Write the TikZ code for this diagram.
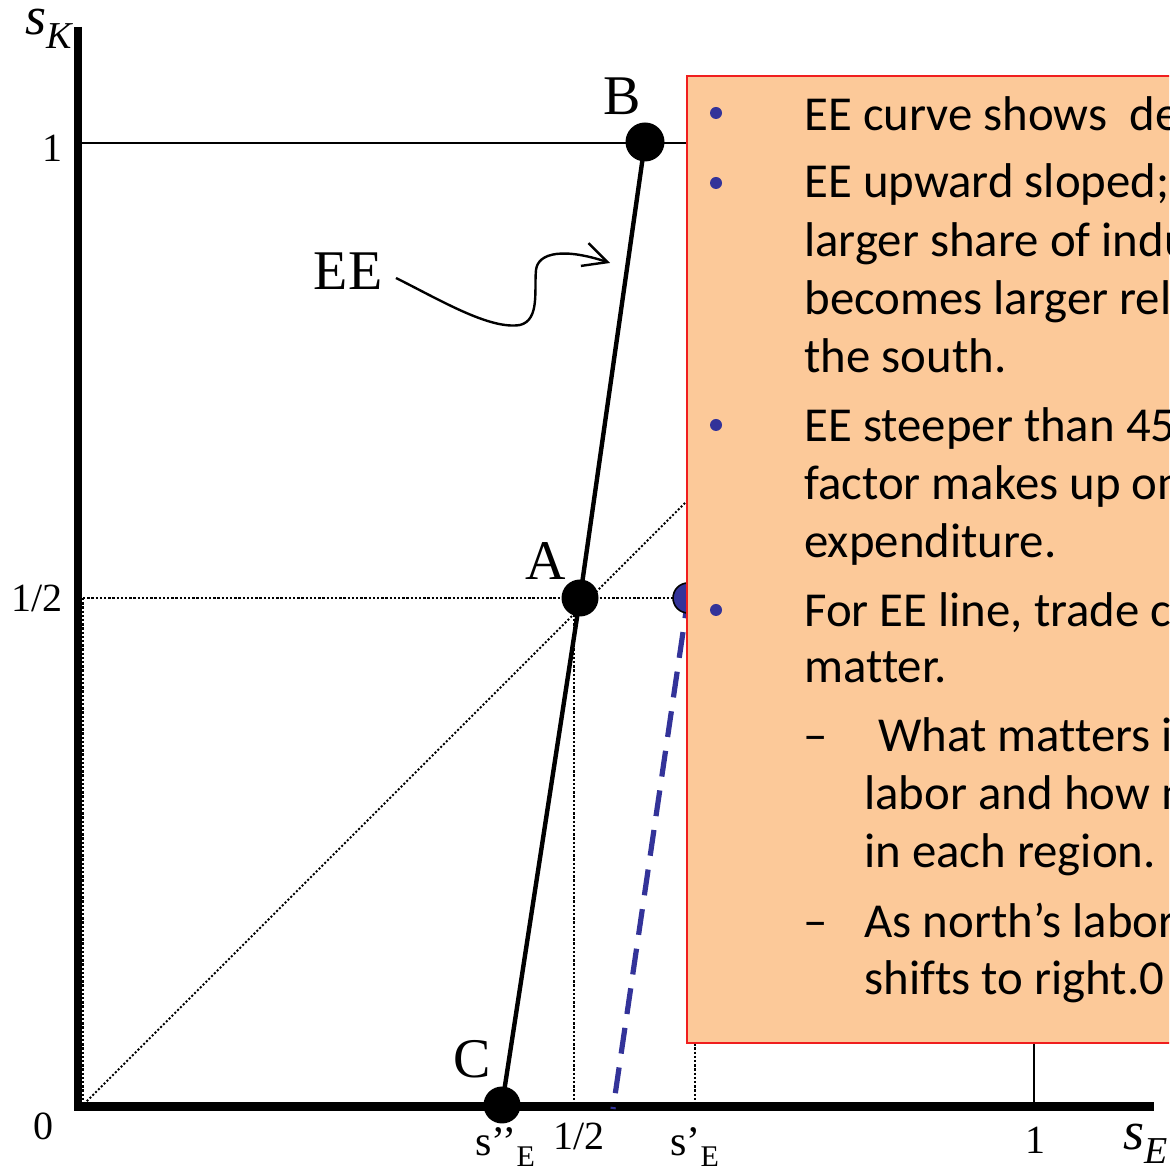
\documentclass[tikz,border=0pt]{standalone}
\usepackage{fontspec}
\setmainfont{Liberation Serif}
\newfontfamily\notefont[Ligatures=CommonOff]{Carlito}
\usetikzlibrary{arrows.meta}
\definecolor{notefill}{RGB}{252,201,153}
\definecolor{noteblue}{RGB}{51,51,153}
\definecolor{noteborder}{RGB}{240,30,30}

\newcommand{\axsub}[2]{#1\raisebox{-0.55ex}{\fontsize{15}{15}\selectfont #2}}

\begin{document}
\begin{tikzpicture}[x=0.5pt,y=0.5pt,
    axis/.style={line width=4.2pt},
    guide/.style={line width=1.3pt, dash pattern=on 1.2pt off 0.9pt},
    dot/.style={circle, fill=black, inner sep=0pt, minimum size=18.5pt},
    ptlabel/.style={anchor=base, inner sep=0pt, font=\fontsize{28}{30}\selectfont},
    ticklabel/.style={anchor=base, inner sep=0pt, font=\fontsize{20}{22}\selectfont},
    noteline/.style={anchor=base west, inner sep=0pt, font=\notefont\fontsize{24.4}{29}\selectfont}]
    \useasboundingbox (0,0) rectangle (1169,1170);
    \clip (0,0) rectangle (1169,1170);

    % guides
    \draw[guide] (83,572) -- (688,572);
    \draw[guide] (83,572) -- (83,63);
    \draw[guide] (574,572) -- (574,63);
    \draw[guide] (695,572) -- (695,63);
    \draw[line width=1pt, dash pattern=on 1pt off 1pt] (84,66) -- (700,682);
    \draw[line width=1pt] (78,1027) -- (1034,1027) -- (1034,63);

    % axes
    \draw[axis] (78,1143) -- (78,59);
    \draw[axis] (74,63.5) -- (1154,63.5);

    % points and EE line
    \node[dot] (C) at (502,65) {};
    \node[dot] (A) at (580,572) {};
    \node[dot, minimum size=19.5pt] (B) at (645,1028) {};
    \draw[line width=2.2pt] (C.center) -- (A.center) -- (B.center);

    \draw[noteblue, line width=2.6pt, dash pattern=on 13pt off 7pt, dash phase=12pt] (613,61) -- (688,572);
    \node[circle, fill=noteblue, draw=black, line width=0.8pt, inner sep=0pt, minimum size=15pt] (D) at (688,572) {};

    \node[ptlabel] (Alab) at (546,590) {A};
    \node[ptlabel] (Blab) at (622,1055) {B};
    \node[ptlabel] (Clab) at (472,92) {C};
    \node[ptlabel] (EElab) at (348,880) {EE};
    \coordinate (EEtip) at (610,907);
    \draw[line width=1.2pt, -{Straight Barb[length=12pt, width=12pt]}] (396,892) .. controls (440,870) and (490,840) .. (520,845) .. controls (540,850) and (534,880) .. (536,900) .. controls (538,918) and (565,922) .. (EEtip);

    % axis labels
    \node[anchor=base west, inner sep=0pt, font=\fontsize{27}{30}\selectfont] (sK) at (25,1135) {\itshape\axsub{s}{\fontsize{19}{19}\selectfont K}};
    \node[ticklabel] (y1) at (52,1008) {1};
    \node[ticklabel] (yhalf) at (37,558) {1/2};
    \node[ticklabel] (y0) at (43,30) {0};
    \node[anchor=base west, inner sep=0pt, font=\fontsize{21}{22}\selectfont] (sEpp) at (475,14) {\axsub{s’’}{E}};
    \node[ticklabel] (xhalf) at (579,20) {1/2};
    \node[anchor=base west, inner sep=0pt, font=\fontsize{21}{22}\selectfont] (sEp) at (670,14) {\axsub{s’}{E}};
    \node[ticklabel] (x1) at (1035,17) {1};
    \node[anchor=base west, inner sep=0pt, font=\fontsize{27}{30}\selectfont] (sE) at (1123,20) {\itshape\axsub{s}{\fontsize{19}{19}\selectfont E}};

    % note box
    \draw[noteborder, fill=notefill, line width=1pt] (687,127) rectangle (1200,1094);
    \foreach \by in {1057,987,745,560}
        \fill[noteblue] (716,\by) circle (3pt);
    \foreach \tx/\ty/\txt [count=\i] in {
        804/1039/{EE curve shows~ de},
        804/972/{EE upward sloped;},
        804/913/{larger share of indu},
        804/855/{becomes larger rela},
        804/797/{the south.},
        804/728/{EE steeper than 45},
        804/670/{factor makes up on},
        804/612/{expenditure.},
        804/543/{For EE line, trade co},
        804/487/{matter.},
        803/418/{–},
        867/418/{\ What matters is},
        864/360/{labor and how m},
        864/302/{in each region.},
        803/232/{–},
        864/232/{As north’s labor},
        864/175/{shifts to right.0}}
        \node[noteline] (note\i) at (\tx,\ty) {\txt};
\end{tikzpicture}
\end{document}
